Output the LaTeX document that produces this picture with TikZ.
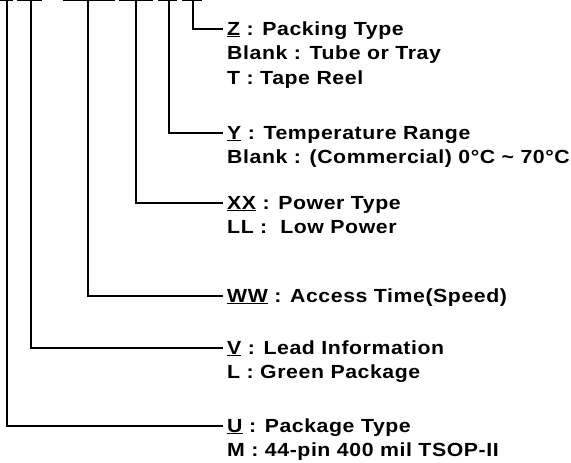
\documentclass[tikz,border=0pt]{standalone}
\usepackage{fontspec}
\newfontfamily\lblfont{Liberation Sans Bold}[FakeStretch=1.12,LetterSpace=3]
\newcommand\linesof[1]{\vtop{\halign{##\hfil\cr#1\crcr}}}
\begin{document}
\begin{tikzpicture}[x=1pt,y=-1pt,
  wire/.style={line width=1.7pt,line cap=rect},
  bar/.style={line width=1.5pt},
  lbl/.style={anchor=base west,inner sep=0pt,font=\lblfont\fontsize{19}{24.5}\selectfont}]
\useasboundingbox (0,0) rectangle (571,463);
% top underline segments
\foreach \a/\b in {0/13,17/42,63/115,119/153,158/177,182/202}
  \draw[bar] (\a,0.7) -- (\b,0.7);
% label nodes
\node[lbl] (z) at (227,35) {\linesof{\underline{Z} : Packing Type\cr Blank : Tube or Tray\cr T : Tape Reel}};
\node[lbl] (y) at (227,139) {\linesof{\underline{Y} : Temperature Range\cr Blank : (Commercial) 0°C \char`~\ 70°C}};
\node[lbl] (x) at (227,209) {\linesof{\underline{XX} : Power Type\cr LL :\ \ Low Power}};
\node[lbl] (w) at (227,302) {\linesof{\underline{WW} : Access Time(Speed)}};
\node[lbl] (v) at (227,354) {\linesof{\underline{V} : Lead Information\cr L : Green Package}};
\node[lbl] (u) at (227,432) {\linesof{\underline{U} : Package Type\cr M : 44-pin 400 mil TSOP-II}};
% connector tops and ends
\coordinate (tz) at (193,0); \coordinate (ez) at (222,29);
\coordinate (ty) at (169,0); \coordinate (ey) at (222,133);
\coordinate (tx) at (136,0); \coordinate (ex) at (222,203);
\coordinate (tw) at (88,0);  \coordinate (ew) at (222,296);
\coordinate (tv) at (31,0);  \coordinate (ev) at (222,348);
\coordinate (tu) at (7,0);   \coordinate (eu) at (222,426);
\foreach \k in {z,y,x,w,v,u}
  \draw[wire] (t\k) |- (e\k);
\end{tikzpicture}
\end{document}
